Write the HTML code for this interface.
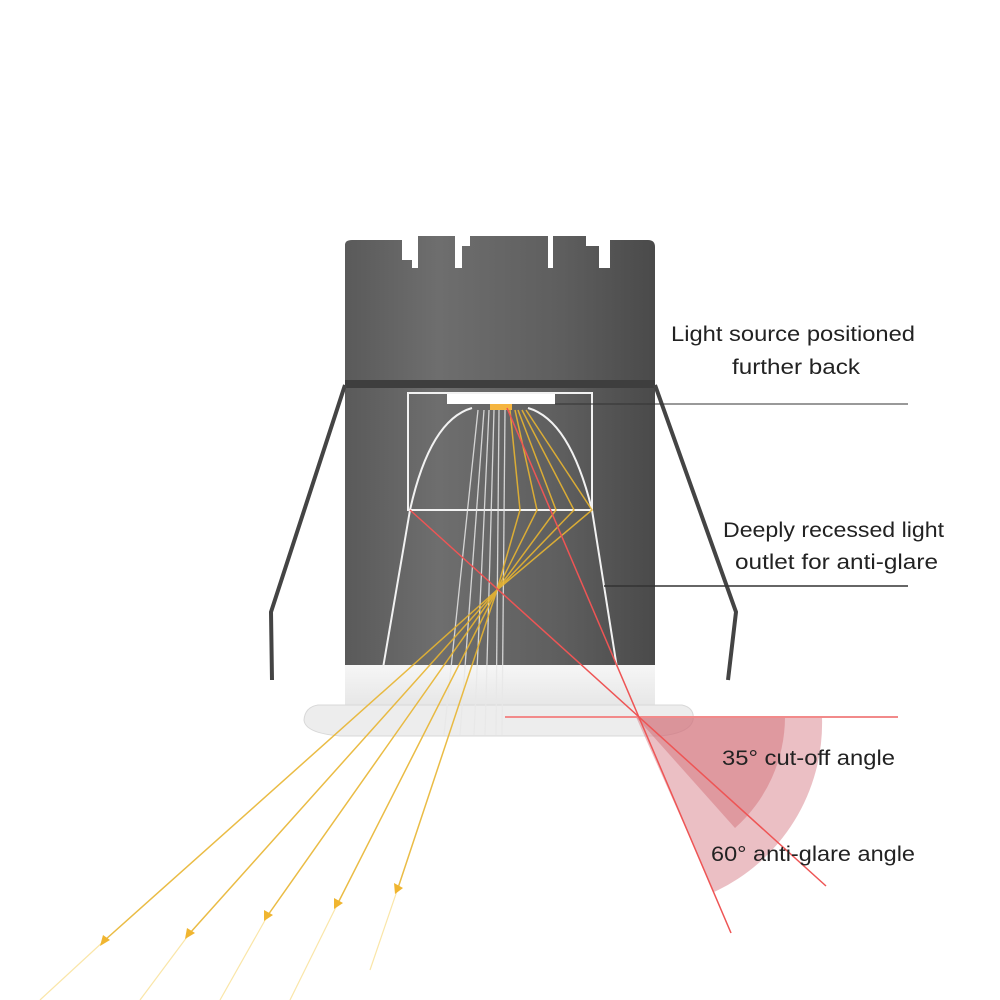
<!DOCTYPE html>
<html><head><style>
html,body{margin:0;padding:0;background:#fff;}
svg{display:block;}
text{font-family:"Liberation Sans",sans-serif;font-size:21px;fill:#222;}
</style></head><body>
<svg width="1000" height="1000" viewBox="0 0 1000 1000">
<defs>
<linearGradient id="body" x1="0" x2="1" y1="0" y2="0">
<stop offset="0" stop-color="#5a5a5a"/><stop offset="0.3" stop-color="#6e6e6e"/><stop offset="0.7" stop-color="#5e5e5e"/><stop offset="1" stop-color="#4a4a4a"/></linearGradient>
<linearGradient id="wh" x1="0" x2="0" y1="0" y2="1"><stop offset="0" stop-color="#f6f6f6"/><stop offset="1" stop-color="#e6e6e6"/></linearGradient>
</defs>
<path d="M345,245 Q345,240 352,240 L402,240 L402,260 L412,260 L412,268 L418,268 L418,236 L455,236 L455,268 L462,268 L462,246 L470,246 L470,236 L548,236 L548,268 L553,268 L553,236 L586,236 L586,246 L599,246 L599,268 L610,268 L610,240 L648,240 Q655,240 655,247 L655,385 L345,385 Z" fill="url(#body)"/>
<rect x="345" y="380" width="310" height="8" fill="#3e3e3e"/>
<rect x="345" y="388" width="310" height="280" fill="url(#body)"/>
<rect x="345" y="665" width="310" height="42" fill="url(#wh)"/>
<path d="M318,705 L682,705 Q695,708 693,720 Q690,733 660,736 L340,736 Q305,733 304,720 Q305,707 318,705 Z" fill="#ededed" stroke="#d8d8d8"/>
<polyline points="345,385 271,612 272,680" fill="none" stroke="#444" stroke-width="4"/>
<polyline points="655,385 736,612 728,680" fill="none" stroke="#444" stroke-width="4"/>
<g fill="none" stroke="#f2f2f2" stroke-width="2">
<rect x="408" y="393" width="184" height="117"/>
<path d="M410,510 Q430,420 472,408 M528,408 Q570,420 592,510"/>
<line x1="410" y1="510" x2="383" y2="668"/>
<line x1="592" y1="510" x2="617" y2="668"/>
</g>
<rect x="447" y="394" width="108" height="10" fill="#fff"/>
<rect x="490" y="404" width="22" height="6" fill="#f5b540"/>
<g stroke="#e8e8e8" stroke-width="1.3" opacity="0.85">
<line x1="478" y1="410" x2="444" y2="735"/>
<line x1="484" y1="410" x2="460" y2="735"/>
<line x1="489" y1="410" x2="474" y2="735"/>
<line x1="494" y1="410" x2="485" y2="735"/>
<line x1="499" y1="410" x2="496" y2="735"/>
<line x1="505" y1="410" x2="502" y2="735"/>
</g>
<g stroke="#e8b531" stroke-width="1.5" fill="none" opacity="0.9">
<polyline points="510,410 520,510 497,590 105,940"/>
<polyline points="515,410 537,510 497,590 190,933"/>
<polyline points="518,410 556,510 497,590 268,915"/>
<polyline points="522,410 574,510 497,590 338,903"/>
<polyline points="526,410 592,510 497,590 398,888"/>
</g>
<g stroke="#fae6a8" stroke-width="1.2" fill="none">
<line x1="105" y1="940" x2="40" y2="1000"/>
<line x1="190" y1="933" x2="140" y2="1000"/>
<line x1="268" y1="915" x2="220" y2="1000"/>
<line x1="338" y1="903" x2="290" y2="1000"/>
<line x1="398" y1="888" x2="370" y2="970"/>
</g>
<g fill="#f0b530">
<polygon points="100,946 103,935 110,940"/>
<polygon points="185,939 187,928 195,933"/>
<polygon points="264,921 264,910 273,915"/>
<polygon points="334,909 334,898 343,903"/>
<polygon points="395,894 394,883 403,888"/>
</g>
<path d="M636,717 L822,717 A186,186 0 0 1 714,892 Z" fill="#d8808a" opacity="0.5"/>
<path d="M636,717 L785,717 A149,149 0 0 1 735,828 Z" fill="#d06a74" opacity="0.45"/>
<line x1="505" y1="717" x2="898" y2="717" stroke="#f28a8a" stroke-width="2"/>
<line x1="410" y1="510" x2="826" y2="886" stroke="#ee5555" stroke-width="1.5"/>
<line x1="507" y1="408" x2="731" y2="933" stroke="#ee5555" stroke-width="1.5"/>
<line x1="555" y1="404" x2="908" y2="404" stroke="#333" stroke-width="1"/>
<line x1="604" y1="586" x2="908" y2="586" stroke="#333" stroke-width="1.5"/>
<text x="671" y="341" textLength="244" lengthAdjust="spacingAndGlyphs">Light source positioned</text>
<text x="732" y="374" textLength="128" lengthAdjust="spacingAndGlyphs">further back</text>
<text x="723" y="537" textLength="221" lengthAdjust="spacingAndGlyphs">Deeply recessed light</text>
<text x="735" y="569" textLength="203" lengthAdjust="spacingAndGlyphs">outlet for anti-glare</text>
<text x="722" y="765" textLength="173" lengthAdjust="spacingAndGlyphs">35° cut-off angle</text>
<text x="711" y="861" textLength="204" lengthAdjust="spacingAndGlyphs">60° anti-glare angle</text>
</svg>
</body></html>
